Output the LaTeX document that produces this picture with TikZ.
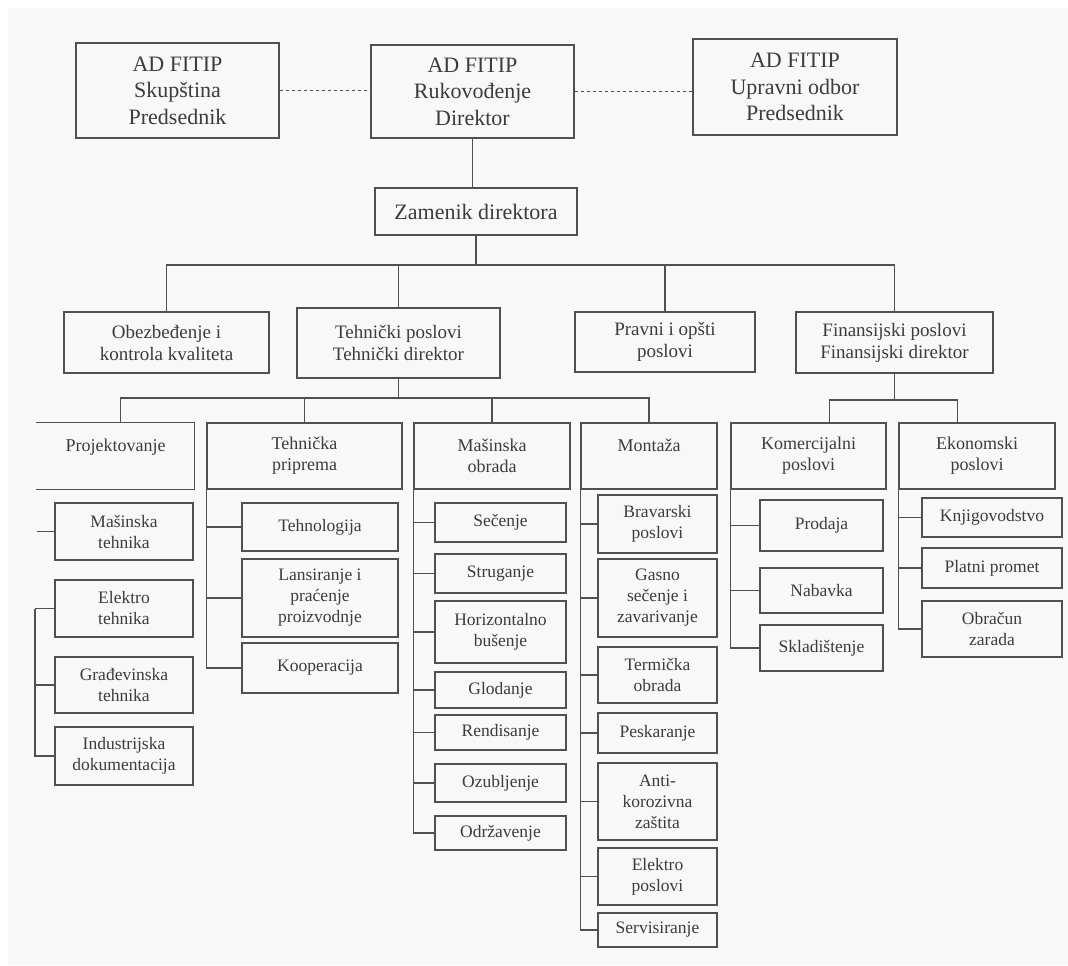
\documentclass[tikz,border=0pt]{standalone}
\usepackage{fontspec}
\setmainfont{Liberation Serif}
\definecolor{linec}{HTML}{505050}
\definecolor{textc}{HTML}{3C3C3C}
\definecolor{bgc}{HTML}{F8F8F8}
\begin{document}
\begin{tikzpicture}[x=1pt,y=-1pt,
  box/.style={draw=linec, line width=1.3pt, inner sep=0pt, align=center, text=textc},
  topbox/.style={box, font=\fontsize{22}{26.5}\selectfont},
  lvtwo/.style={box, font=\fontsize{19}{22}\selectfont},
  lvthree/.style={box, font=\fontsize{18}{21}\selectfont},
  leaf/.style={box, font=\fontsize{17.5}{21}\selectfont},
  con/.style={draw=linec, line width=1.3pt},
  dotcon/.style={draw=linec, line width=1.3pt, dash pattern=on 3pt off 3pt}]
\useasboundingbox (0,0) rectangle (1068,966);
\fill[white] (0,0) rectangle (1068,966);
\fill[bgc] (8,8) rectangle (1068,965);

% top level
\node[topbox, minimum width=203pt, minimum height=95pt] (sk) at (177.5,90.5) {AD FITIP\\Skupština\\Predsednik};
\node[topbox, minimum width=203pt, minimum height=93pt] (ru) at (472.5,91.5) {AD FITIP\\Rukovođenje\\Direktor};
\node[topbox, minimum width=204pt, minimum height=96pt] (up) at (795,87) {AD FITIP\\Upravni odbor\\Predsednik};
\node[topbox, minimum width=202pt, minimum height=47pt] (za) at (476,211.5) {Zamenik direktora};

\draw[dotcon] (sk.east) -- (sk.east -| ru.west);
\draw[dotcon] (ru.east) -- (ru.east -| up.west);
\draw[con] (ru.south) -- (ru.south |- za.north);

% level 2
\node[lvtwo, minimum width=205pt, minimum height=61pt] (ob) at (166.5,342.5) {Obezbeđenje i\\kontrola kvaliteta};
\node[lvtwo, minimum width=203pt, minimum height=70pt] (th) at (398.5,343) {Tehnički poslovi\\Tehnički direktor};
\node[lvtwo, minimum width=180pt, minimum height=60pt] (pr) at (665,342) {Pravni i opšti\\poslovi};
\node[lvtwo, minimum width=197pt, minimum height=61pt] (fi) at (894.5,342.5) {Finansijski poslovi\\Finansijski direktor};

\coordinate (b1) at (472,265);
\draw[con] (za.south) -- (za.south |- b1);
\draw[con] (ob.north) |- (fi.north |- b1) -- (fi.north);
\draw[con] (th.north) -- (th.north |- b1);
\draw[con] (pr.north) -- (pr.north |- b1);

% level 3
\node[lvthree, draw=none, minimum width=157pt, minimum height=66pt] (pj) at (115.5,456) {Projektovanje\\\mbox{}};
\draw[con] (pj.north west) -- (pj.north east) -- (pj.south east) -- (pj.south west);
\node[lvthree, minimum width=195pt, minimum height=66pt] (tp) at (304.5,456) {Tehnička\\priprema};
\node[lvthree, minimum width=156pt, minimum height=66pt] (mo) at (492,456) {Mašinska\\obrada};
\node[lvthree, minimum width=136pt, minimum height=66pt] (mt) at (649,456) {Montaža\\\mbox{}};
\node[lvthree, minimum width=155pt, minimum height=66pt] (ko) at (808.5,456) {Komercijalni\\poslovi};
\node[lvthree, minimum width=156pt, minimum height=66pt] (ek) at (977,456) {Ekonomski\\poslovi};

\coordinate (b2) at (397,398);
\draw[con] (th.south) -- (th.south |- b2);
\draw[con] ([xshift=84pt]pj.north west) |- (mt.north |- b2) -- (mt.north);
\draw[con] (tp.north) -- (tp.north |- b2);
\draw[con] (mo.north) -- (mo.north |- b2);

\coordinate (b3) at (895,400);
\draw[con] (fi.south) -- (fi.south |- b3);
\draw[con] ([xshift=99pt]ko.north west) |- ([xshift=59pt]ek.north west |- b3) -- ([xshift=59pt]ek.north west);

% Projektovanje children
\node[leaf, minimum width=138pt, minimum height=57pt] (pt1) at (124,531.5) {Mašinska\\tehnika};
\node[leaf, minimum width=138pt, minimum height=57pt] (pt2) at (124,608.5) {Elektro\\tehnika};
\node[leaf, minimum width=138pt, minimum height=56pt] (pt3) at (124,685) {Građevinska\\tehnika};
\node[leaf, minimum width=138pt, minimum height=58pt] (pt4) at (124,756) {Industrijska\\dokumentacija};
\coordinate (s1) at (37,531.5);
\draw[con] (s1) -- (pt1.west);
\coordinate (pv) at (35,608.5);
\draw[con] (pv) -- (pt2.west);
\draw[con] (pv) |- (pt4.west);
\draw[con] (pv |- pt3.west) -- (pt3.west);

% Tehnička priprema children
\node[leaf, minimum width=156pt, minimum height=48pt] (tp1) at (320,527) {Tehnologija};
\node[leaf, minimum width=156pt, minimum height=78pt] (tp2) at (320,598) {Lansiranje i\\praćenje\\proizvodnje};
\node[leaf, minimum width=156pt, minimum height=50pt] (tp3) at (320,668) {Kooperacija};
\draw[con] (tp.south west) |- (tp3.west);
\draw[con] (tp.south west |- tp1.west) -- (tp1.west);
\draw[con] (tp.south west |- tp2.west) -- (tp2.west);

% Mašinska obrada children
\node[leaf, minimum width=131pt, minimum height=39pt] (m1) at (500.5,522.5) {Sečenje};
\node[leaf, minimum width=131pt, minimum height=39pt] (m2) at (500.5,573.5) {Struganje};
\node[leaf, minimum width=131pt, minimum height=62pt] (m3) at (500.5,632) {Horizontalno\\bušenje};
\node[leaf, minimum width=131pt, minimum height=36pt] (m4) at (500.5,690) {Glodanje};
\node[leaf, minimum width=131pt, minimum height=35pt] (m5) at (500.5,732.5) {Rendisanje};
\node[leaf, minimum width=131pt, minimum height=38pt] (m6) at (500.5,783) {Ozubljenje};
\node[leaf, minimum width=131pt, minimum height=34pt] (m7) at (500.5,833) {Održavenje};
\draw[con] (mo.south west) |- (m7.west);
\foreach \n in {m1,m2,m3,m4,m5,m6} \draw[con] (mo.south west |- \n.west) -- (\n.west);

% Montaža children
\node[leaf, minimum width=119pt, minimum height=58pt] (n1) at (657.5,524) {Bravarski\\poslovi};
\node[leaf, minimum width=119pt, minimum height=78pt] (n2) at (657.5,598) {Gasno\\sečenje i\\zavarivanje};
\node[leaf, minimum width=119pt, minimum height=56pt] (n3) at (657.5,675) {Termička\\obrada};
\node[leaf, minimum width=119pt, minimum height=40pt] (n4) at (657.5,733) {Peskaranje};
\node[leaf, minimum width=119pt, minimum height=77pt] (n5) at (657.5,801.5) {Anti-\\korozivna\\zaštita};
\node[leaf, minimum width=119pt, minimum height=57pt] (n6) at (657.5,876.5) {Elektro\\poslovi};
\node[leaf, minimum width=119pt, minimum height=34pt] (n7) at (657.5,930) {Servisiranje};
\draw[con] (mt.south west) |- (n7.west);
\foreach \n in {n1,n2,n3,n4,n5,n6} \draw[con] (mt.south west |- \n.west) -- (\n.west);

% Komercijalni children
\node[leaf, minimum width=123pt, minimum height=51pt] (k1) at (821.5,525.5) {Prodaja};
\node[leaf, minimum width=123pt, minimum height=45pt] (k2) at (821.5,590.5) {Nabavka};
\node[leaf, minimum width=123pt, minimum height=46pt] (k3) at (821.5,648) {Skladištenje};
\draw[con] (ko.south west) |- (k3.west);
\foreach \n in {k1,k2} \draw[con] (ko.south west |- \n.west) -- (\n.west);

% Ekonomski children
\node[leaf, minimum width=140pt, minimum height=39pt] (e1) at (992,517.5) {Knjigovodstvo};
\node[leaf, minimum width=140pt, minimum height=40pt] (e2) at (992,568) {Platni promet};
\node[leaf, minimum width=140pt, minimum height=56pt] (e3) at (992,629) {Obračun\\zarada};
\draw[con] (ek.south west) |- (e3.west);
\foreach \n in {e1,e2} \draw[con] (ek.south west |- \n.west) -- (\n.west);
\end{tikzpicture}
\end{document}
